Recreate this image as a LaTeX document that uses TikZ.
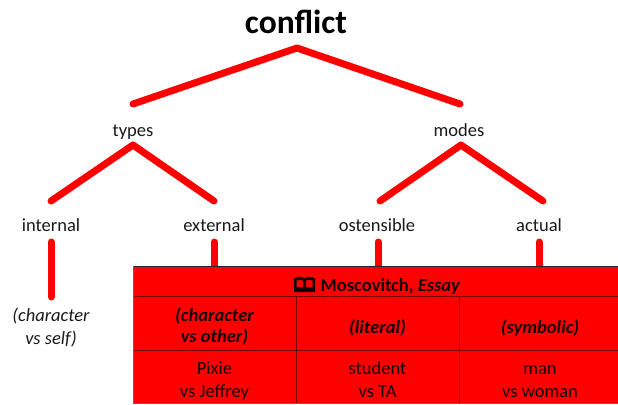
\documentclass[tikz,border=0pt]{standalone}
\usepackage{fontspec}
\setmainfont{Carlito}
\definecolor{rd}{RGB}{255,0,0}
\definecolor{grid}{RGB}{120,0,0}
\definecolor{ink}{RGB}{20,0,0}
\tikzset{
  x=1pt,y=-1pt,
  lab/.style={font=\fontsize{18.5}{22}\selectfont,inner sep=0pt,align=center,text=black!90},
  edge/.style={draw=rd,line width=7pt,line cap=round,line join=round},
  celltext/.style={font=\fontsize{18.5}{22.8}\selectfont,inner sep=0pt,align=center,text=ink},
  headtext/.style={celltext,font=\fontsize{18.5}{20.5}\selectfont\bfseries\itshape},
}
\begin{document}
\begin{tikzpicture}
\useasboundingbox (0,0) rectangle (618,404);
\node[font=\fontsize{33.5}{36}\selectfont\bfseries,inner sep=0pt] (conflict) at (296,22) {conflict};
\node[lab] (types) at (133,132) {types};
\node[lab] (modes) at (459,130) {modes};
\node[lab] (internal) at (51,225) {internal};
\node[lab] (external) at (214,225) {external};
\node[lab] (ostensible) at (377,225) {ostensible};
\node[lab] (actual) at (539,225) {actual};
\node[lab,font=\fontsize{18.5}{23}\selectfont\itshape] (self) at (51,327.5) {(character\\vs self)};
% anchor points
\coordinate (apexA) at (297,48);
\coordinate (a1) at (133,104);
\coordinate (a2) at (460,104);
\coordinate (apexB) at (133,145);
\coordinate (b1) at (51,201);
\coordinate (b2) at (214,201);
\coordinate (apexC) at (461,145);
\coordinate (c1) at (380,201);
\coordinate (c2) at (543,201);
\coordinate (d0) at (51,242);
\coordinate (d1) at (51,297);
\coordinate (e0) at (214,242);
\coordinate (e1) at (214,268);
\coordinate (f0) at (378,242);
\coordinate (f1) at (378,268);
\coordinate (g0) at (539,242);
\coordinate (g1) at (539,268);
\draw[edge] (a1)--(apexA)--(a2);
\draw[edge] (b1)--(apexB)--(b2);
\draw[edge] (c1)--(apexC)--(c2);
\draw[edge] (d0)--(d1);
\draw[edge] (e0)--(e1);
\draw[edge] (f0)--(f1);
\draw[edge] (g0)--(g1);
% table
\fill[rd] (133,266) rectangle (618,403);
\coordinate (tl) at (133,266);
\coordinate (tr) at (618,266);
\coordinate (bl) at (133,403);
\coordinate (br) at (618,403);
\coordinate (r1l) at (133,296);
\coordinate (r1r) at (618,296);
\coordinate (r2l) at (133,350);
\coordinate (r2r) at (618,350);
\coordinate (c1t) at (296,296);
\coordinate (c1b) at (296,403);
\coordinate (c2t) at (459,296);
\coordinate (c2b) at (459,403);
\draw[grid,line width=1pt] (r1l)--(r1r) (r2l)--(r2r) (c1t)--(c1b) (c2t)--(c2b);
\draw[black!85,line width=1pt] (tl)--(tr);
\draw[black!60,line width=1pt] (tl)--(bl)--(br);
\node[celltext,font=\fontsize{18.5}{22}\selectfont\bfseries,anchor=west] (head) at (320.5,286) {Moscovitch, \textit{Essay}};
% book icon
\fill[ink,even odd rule] (294,278.5) .. controls (298,276) and (302,276) .. (304.5,278.5)
  .. controls (307,276) and (311,276) .. (315,278.5) -- (315,292) -- (294,292) -- cycle
  (296.5,280.5) .. controls (298,279.5) and (301,279.5) .. (303,280.5) -- (303,287.5) .. controls (301,286.7) and (298,286.7) .. (296.5,287.5) -- cycle
  (306,280.5) .. controls (308,279.5) and (311,279.5) .. (312.5,280.5) -- (312.5,287.5) .. controls (311,286.7) and (308,286.7) .. (306,287.5) -- cycle;
\node[headtext] (h1) at (214.5,328) {\strut(character\\\strut vs other)};
\node[headtext] (h2) at (377.5,329) {\strut(literal)};
\node[headtext] (h3) at (540,329) {\strut(symbolic)};
\node[celltext] (p1) at (214.5,381.5) {\strut Pixie\\\strut vs Jeffrey};
\node[celltext] (p2) at (377.5,381.5) {\strut student\\\strut vs TA};
\node[celltext] (p3) at (540,381.5) {\strut man\\\strut vs woman};
\end{tikzpicture}
\end{document}
